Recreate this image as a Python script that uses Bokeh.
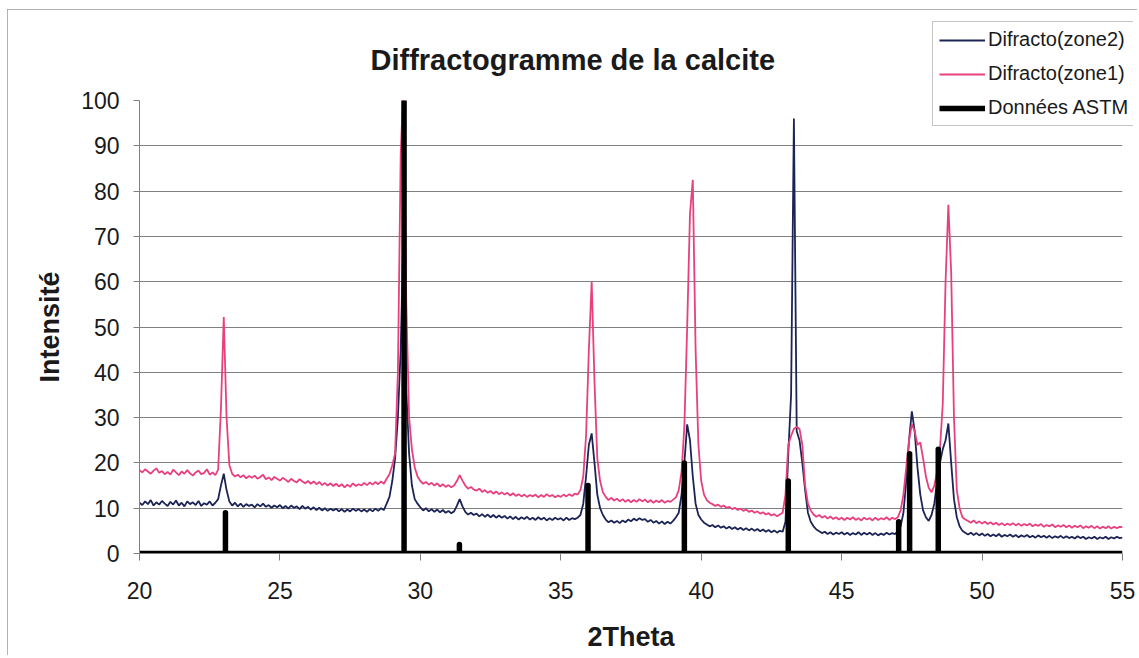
import numpy as np
from bokeh.plotting import figure
from bokeh.models import Range1d, FixedTicker, Legend, LegendItem
from bokeh.embed import file_html
from bokeh.resources import INLINE

# ---- data -----------------------------------------------------------------
# 2Theta sampling grid (0.1 degree steps, 20 -> 55)
two_theta = np.round(np.arange(200, 551) / 10.0, 1)

zone1 = [  # Difracto(zone1), pink
    18.4, 17.9, 18.6, 18.1, 17.6, 18.3, 18.8, 17.8, 18.2, 17.5,
    18.0, 17.4, 18.5, 17.9, 17.3, 18.1, 17.6, 18.4, 17.7, 17.2,
    17.9, 18.3, 17.5, 17.8, 18.6, 17.4, 17.9, 17.3, 18.5, 32.0,
    52.2, 30.0, 19.5, 17.6, 17.0, 17.4, 16.8, 17.3, 16.6, 17.1,
    16.7, 17.2, 16.5, 16.9, 17.4, 16.4, 16.8, 16.2, 16.9, 16.5,
    16.1, 16.7, 16.3, 15.8, 16.5, 16.0, 15.7, 16.4, 15.9, 15.5,
    16.0, 15.4, 15.9, 15.3, 15.8, 15.1, 15.6, 15.0, 15.5, 14.9,
    15.4, 14.8, 15.3, 14.6, 15.2, 14.7, 15.5, 14.9, 15.3, 15.0,
    15.6, 15.1, 15.7, 15.2, 15.8, 15.3, 15.9, 15.4, 16.5, 17.5,
    19.5, 22.0, 40.0, 88.0, 104.0, 55.0, 30.0, 23.0, 19.0, 17.0,
    16.0, 15.4, 15.8, 15.2, 15.6, 15.0, 15.5, 14.8, 15.3, 14.7,
    15.1, 14.6, 15.0, 16.0, 17.3, 16.1, 15.0, 14.3, 14.7, 14.1,
    13.9, 14.3, 13.6, 14.0, 13.4, 13.8, 13.2, 13.7, 13.1, 13.5,
    13.0, 13.4, 12.8, 13.3, 12.7, 13.1, 12.6, 13.0, 12.5, 12.9,
    12.6, 13.0, 12.4, 12.9, 12.5, 13.1, 12.6, 12.9, 12.4, 12.8,
    12.5, 13.0, 12.6, 13.1, 12.7, 13.2, 13.0, 14.0, 17.0, 26.0,
    45.0, 60.0, 38.0, 21.0, 16.0, 13.5, 12.5, 11.8, 12.3, 11.7,
    12.1, 11.5, 12.0, 11.4, 11.9, 11.3, 11.8, 11.4, 12.0, 11.5,
    11.9, 11.3, 11.8, 11.2, 11.7, 11.3, 11.8, 11.2, 11.6, 11.4,
    11.9, 12.4, 14.0, 18.0, 28.0, 50.0, 75.0, 82.5, 45.0, 24.0,
    16.0, 13.0, 11.8, 11.2, 10.9, 10.5, 10.8, 10.3, 10.6, 10.1,
    10.3, 9.8, 10.1, 9.6, 9.9, 9.4, 9.7, 9.2, 9.5, 9.0,
    9.3, 8.8, 9.1, 8.6, 8.9, 8.4, 8.7, 8.2, 8.6, 9.0,
    13.0, 24.0, 26.0, 27.5, 28.0, 27.5, 24.0, 15.0, 11.0, 9.5,
    8.6, 8.1, 8.5, 7.9, 8.3, 7.7, 8.2, 7.6, 8.0, 7.5,
    7.9, 7.4, 7.9, 7.5, 8.0, 7.4, 7.8, 7.3, 7.9, 7.5,
    7.8, 7.3, 7.9, 7.4, 7.8, 7.5, 8.0, 7.4, 7.9, 7.6,
    8.0, 9.5, 13.0, 19.0, 25.0, 28.5, 27.0, 24.0, 24.5, 21.0,
    17.0, 14.5, 13.5, 15.0, 18.0, 23.0, 33.0, 60.0, 77.0, 62.0,
    30.0, 14.0, 10.0, 8.0, 7.5, 7.2, 6.8, 7.3, 6.7, 7.1,
    6.6, 7.0, 6.5, 6.9, 6.4, 6.8, 6.3, 6.7, 6.2, 6.6,
    6.3, 6.7, 6.2, 6.6, 6.1, 6.5, 6.2, 6.6, 6.0, 6.4,
    6.1, 6.5, 5.9, 6.3, 6.0, 6.4, 5.8, 6.2, 5.9, 6.3,
    5.8, 6.2, 5.7, 6.1, 5.8, 6.2, 5.6, 6.0, 5.7, 6.1,
    5.6, 6.0, 5.5, 5.9, 5.6, 6.0, 5.5, 5.9, 5.6, 5.9,
    5.8,
]

zone2 = [  # Difracto(zone2), navy
    11.2, 10.7, 11.5, 10.9, 11.8, 10.6, 11.3, 10.8, 11.6, 11.0,
    10.5, 11.4, 10.8, 11.7, 10.6, 11.2, 10.4, 11.5, 10.9, 11.3,
    10.7, 11.6, 10.5, 11.1, 10.8, 11.5, 10.6, 11.2, 12.0, 15.0,
    17.6, 14.0, 11.5, 10.6, 11.2, 10.4, 11.0, 10.3, 10.9, 10.5,
    10.8, 10.2, 10.9, 10.4, 11.0, 10.3, 10.7, 10.1, 10.6, 10.2,
    10.7, 10.0, 10.5, 9.9, 10.6, 10.1, 10.4, 9.8, 10.5, 9.9,
    10.3, 9.7, 10.2, 9.6, 10.1, 9.5, 10.0, 9.4, 9.9, 9.5,
    9.9, 9.3, 9.8, 9.2, 9.7, 9.3, 9.9, 9.4, 9.8, 9.3,
    9.7, 9.2, 9.8, 9.3, 9.9, 9.4, 10.0, 9.6, 11.0, 12.5,
    16.0, 21.0, 30.0, 45.0, 72.0, 36.0, 22.0, 15.0, 12.0, 11.0,
    10.2, 9.5, 10.0, 9.3, 9.8, 9.2, 9.7, 9.1, 9.6, 9.0,
    9.4, 8.9, 9.3, 10.5, 12.0, 10.4, 9.2, 8.6, 9.0, 8.5,
    8.8, 8.2, 8.7, 8.1, 8.6, 8.0, 8.5, 7.9, 8.4, 7.9,
    8.3, 7.7, 8.2, 7.6, 8.1, 7.5, 8.0, 7.6, 8.1, 7.5,
    7.9, 7.4, 8.0, 7.5, 7.9, 7.3, 7.8, 7.4, 7.9, 7.5,
    7.8, 7.3, 7.9, 7.4, 7.8, 7.6, 7.9, 8.5, 11.0, 17.0,
    24.0, 26.5, 20.0, 13.0, 10.0, 8.5, 7.5, 6.9, 7.3, 6.8,
    7.2, 6.7, 7.3, 6.9, 7.5, 7.1, 7.7, 7.3, 7.8, 7.4,
    7.6, 7.0, 7.4, 6.8, 7.2, 6.6, 7.1, 6.5, 7.0, 6.6,
    7.2, 8.0, 9.0, 13.0, 20.0, 28.5, 25.0, 17.0, 11.0, 8.5,
    7.5, 6.8, 6.4, 6.0, 6.3, 5.8, 6.2, 5.7, 6.0, 5.5,
    5.9, 5.4, 5.8, 5.3, 5.7, 5.2, 5.6, 5.1, 5.5, 5.0,
    5.4, 4.9, 5.3, 4.8, 5.2, 4.7, 5.1, 4.6, 5.0, 4.8,
    7.0, 22.0, 35.0, 96.0, 27.0, 25.0, 20.0, 14.0, 9.0, 7.0,
    6.0, 5.3, 4.9, 4.5, 4.8, 4.3, 4.7, 4.2, 4.6, 4.3,
    4.7, 4.2, 4.6, 4.1, 4.5, 4.2, 4.7, 4.1, 4.6, 4.2,
    4.6, 4.1, 4.5, 4.0, 4.4, 4.1, 4.6, 4.2, 4.5, 4.3,
    4.9, 6.0, 9.0, 16.0, 25.0, 31.4, 27.0, 19.0, 13.0, 9.5,
    8.0, 7.2, 8.5, 11.0, 16.0, 20.0, 23.0, 25.0, 28.7, 20.0,
    12.0, 8.0, 6.0, 5.0, 4.6, 4.2, 4.6, 4.1, 4.5, 4.0,
    4.4, 3.9, 4.3, 3.8, 4.2, 3.8, 4.3, 3.7, 4.1, 3.8,
    4.2, 3.7, 4.1, 3.6, 4.0, 3.7, 4.1, 3.6, 3.9, 3.5,
    4.0, 3.6, 3.9, 3.5, 3.9, 3.4, 3.8, 3.5, 3.9, 3.4,
    3.8, 3.4, 3.7, 3.3, 3.8, 3.4, 3.7, 3.2, 3.6, 3.3,
    3.7, 3.2, 3.6, 3.3, 3.7, 3.2, 3.6, 3.3, 3.7, 3.4,
    3.5,
]

astm_pos = [23.06, 29.42, 31.39, 35.97, 39.40, 43.10, 47.03, 47.42, 48.44]
astm_int = [9, 100, 2, 15, 20, 16, 7, 22, 23]

x_ticks = [20, 25, 30, 35, 40, 45, 50, 55]
y_ticks = [0, 10, 20, 30, 40, 50, 60, 70, 80, 90, 100]

series_labels = ["Difracto(zone2)", "Difracto(zone1)", "Données ASTM"]

# ASTM stick pattern as one thick polyline along the baseline
astm_x = [x_ticks[0]]
astm_y = [0]
for xp, yp in zip(astm_pos, astm_int):
    astm_x += [xp, xp, xp]
    astm_y += [0, yp, 0]
astm_x.append(x_ticks[-1])
astm_y.append(0)

FONT = "Liberation Sans"
PINK = "#e8407e"
NAVY = "#1c2456"
NAVY_W, PINK_W, ASTM_W = 1.8, 1.8, 5.5

p = figure(width=1130, height=646, output_backend="svg", toolbar_location=None,
           x_range=Range1d(20, 55), y_range=Range1d(0, 100),
           min_border_left=132, min_border_right=15,
           min_border_top=91, min_border_bottom=102,
           background_fill_color="white", border_fill_color="white")
p.styles = {"margin-left": "7px", "margin-top": "9px",
            "outline": "1px solid #9a9a9a", "outline-offset": "-1px"}
p.outline_line_color = None

p.title.text = "Diffractogramme de la calcite"
p.title.text_font = FONT
p.title.text_font_size = "29px"
p.title.text_font_style = "bold"
p.title.text_color = "#1a1a1a"
p.title.align = "left"
p.title.offset = 231
p.title.standoff = 50

p.xgrid.visible = False
p.ygrid.grid_line_color = "#808080"
p.ygrid.grid_line_width = 1

p.xaxis.ticker = FixedTicker(ticks=x_ticks)
p.yaxis.ticker = FixedTicker(ticks=y_ticks)
for ax in (p.xaxis, p.yaxis):
    ax.major_label_text_font = FONT
    ax.major_label_text_font_size = "23px"
    ax.major_label_text_color = "#1a1a1a"
    ax.axis_label_text_font = FONT
    ax.axis_label_text_font_size = "27px"
    ax.axis_label_text_font_style = "bold"
    ax.axis_label_text_color = "#1a1a1a"
    ax.axis_line_color = "#808080"
    ax.major_tick_line_color = "#808080"
    ax.major_tick_in = 0
    ax.minor_tick_line_color = None

p.xaxis.axis_label = "2Theta"
p.yaxis.axis_label = "Intensité"
p.xaxis.major_tick_out = 7
p.yaxis.major_tick_out = 6
p.xaxis.major_label_standoff = 21
p.yaxis.major_label_standoff = 14
p.xaxis.axis_label_standoff = 20
p.yaxis.axis_label_standoff = 13

p.line(two_theta, zone2, line_color=NAVY, line_width=NAVY_W)
p.line(two_theta, zone1, line_color=PINK, line_width=PINK_W)
p.line(astm_x, astm_y, line_color="black", line_width=ASTM_W, line_join="round")

# ---- legend: a small overlay figure so the box can sit across the frame edge
# (its renderers carry the same series, lying outside this figure's ranges)
lg = figure(width=202, height=107, output_backend="svg", toolbar_location=None,
            x_axis_location=None, y_axis_location=None,
            x_range=Range1d(0, 1), y_range=Range1d(-1000, -999),
            min_border=0, background_fill_color="white", border_fill_color="white")
lg.outline_line_color = None
lg.grid.visible = False
lg.styles = {"position": "absolute", "left": "931px", "top": "20px", "z-index": "5"}
k2 = lg.line(two_theta, zone2, line_color=NAVY, line_width=NAVY_W)
k1 = lg.line(two_theta, zone1, line_color=PINK, line_width=PINK_W)
k3 = lg.line(astm_x, astm_y, line_color="black", line_width=ASTM_W)

legend = Legend(items=[
    LegendItem(label=series_labels[0], renderers=[k2]),
    LegendItem(label=series_labels[1], renderers=[k1]),
    LegendItem(label=series_labels[2], renderers=[k3]),
], location="top_left")
legend.label_text_font = FONT
legend.label_text_font_size = "20px"
legend.label_text_color = "#1a1a1a"
legend.glyph_width = 46
legend.glyph_height = 20
legend.label_height = 20
legend.label_standoff = 3
legend.spacing = 11
legend.padding = 6
legend.margin = 1
legend.border_line_color = "#8a8a8a"
legend.border_line_width = 1
legend.background_fill_color = "white"
legend.background_fill_alpha = 1.0
lg.add_layout(legend, "center")

open("out.html", "w").write(file_html([p, lg], INLINE))
